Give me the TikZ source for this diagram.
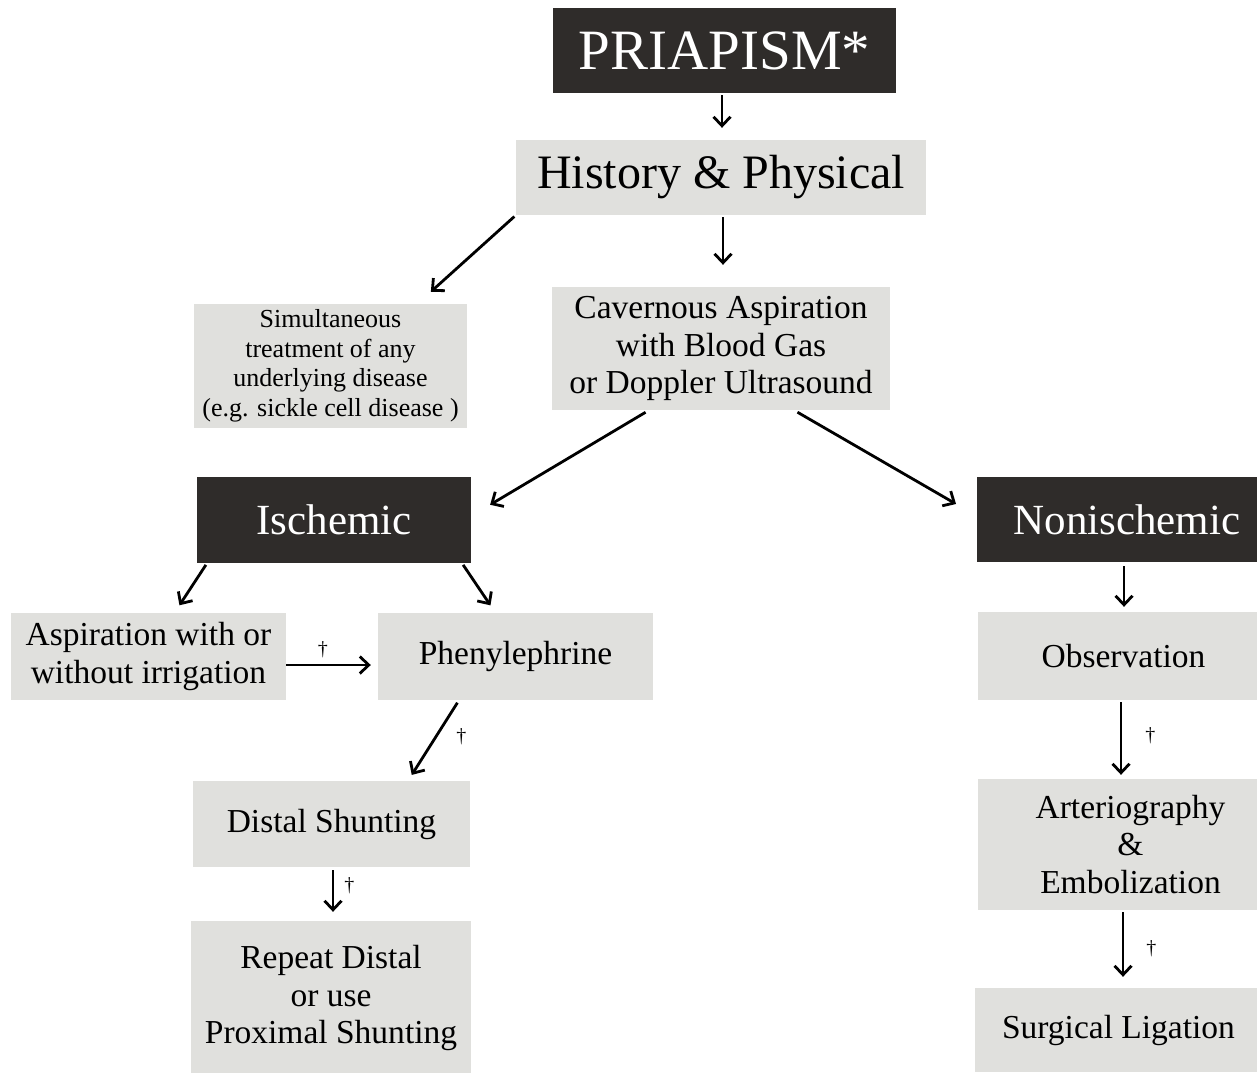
\documentclass[tikz,border=0pt]{standalone}
\usepackage{fontspec}
\setmainfont{Liberation Serif}
\usepackage{tikz}
\usetikzlibrary{arrows.meta}
\definecolor{boxgrey}{RGB}{224,224,221}
\definecolor{boxdark}{RGB}{47,44,42}
\newcommand{\bigtxt}{\fontsize{33.5}{37.5}\selectfont}

\begin{document}
\begin{tikzpicture}[x=1pt,y=-1pt,
  greybox/.style={fill=boxgrey, draw=none, inner sep=0pt, align=center, font=\bigtxt},
  darkbox/.style={fill=boxdark, draw=none, inner sep=0pt, align=center, text=white},
  arr/.style={line width=2.8pt, -{Straight Barb[length=9pt,width=17pt]}},
  dagg/.style={font=\fontsize{20}{20}\selectfont, inner sep=2pt}]
\useasboundingbox (0,0) rectangle (1257,1072);
% top of the chart
\node[darkbox, minimum width=343, minimum height=85, font=\fontsize{57}{60}\selectfont] (pri) at (724.5,50.5) {PRIAPISM*};
\node[greybox, minimum width=410, minimum height=75, font=\fontsize{48}{50}\selectfont] (hp) at (721,177.5) {History \& Physical};
\node[greybox, minimum width=273, minimum height=124, font=\fontsize{26}{29.5}\selectfont] (sim) at (330.5,366) {Simultaneous\\treatment of any\\underlying disease\\(e.g. sickle cell disease )};
\node[greybox, minimum width=338, minimum height=123] (cav) at (721,348.5) {Cavernous Aspiration\\with Blood Gas\\or Doppler Ultrasound};
% ischemic branch
\node[darkbox, minimum width=274, minimum height=86, font=\fontsize{43}{45}\selectfont] (isch) at (334,520) {Ischemic};
\node[greybox, minimum width=275, minimum height=87] (asp) at (148.5,656.5) {Aspiration with or\\without irrigation};
\node[greybox, minimum width=275, minimum height=87] (phen) at (515.5,656.5) {Phenylephrine};
\node[greybox, minimum width=277, minimum height=86] (dist) at (331.5,824) {Distal Shunting};
\node[greybox, minimum width=280, minimum height=154] (rep) at (331,998) {Repeat Distal\\or use\\Proximal Shunting};
% nonischemic branch
\node[darkbox, minimum width=300, minimum height=85, font=\fontsize{43}{45}\selectfont] (nonisch) at (1127,519.5) {Nonischemic};
\node[greybox, minimum width=291, minimum height=88] (obs) at (1123.5,656) {Observation};
\node[greybox, minimum width=305, minimum height=131] (art) at (1130.5,844.5) {Arteriography\\\&\\Embolization};
\node[greybox, minimum width=287, minimum height=84] (surg) at (1118.5,1030) {Surgical Ligation};
% connectors
\draw[arr, shorten <=2pt, shorten >=12pt] ([xshift=-2.5pt]pri.south) -- ([xshift=1pt]hp.north);
\draw[arr, shorten <=2pt, shorten >=18pt] (hp.south west) -- ([xshift=87pt]sim.north);
\draw[arr, shorten <=2pt, shorten >=22pt] ([xshift=2pt]hp.south) -- ([xshift=2pt]cav.north);
\draw[arr, shorten <=4pt, shorten >=22pt] ([xshift=-72pt]cav.south) -- ([yshift=4pt]isch.east);
\draw[arr, shorten <=4pt, shorten >=24pt] ([xshift=73pt]cav.south) -- ([yshift=3.5pt]nonisch.west);
\draw[arr, shorten <=2pt, shorten >=9pt] ([xshift=-127pt]isch.south) -- ([xshift=26pt]asp.north);
\draw[arr, shorten <=2pt, shorten >=9pt] ([xshift=128pt]isch.south) -- ([xshift=-20pt]phen.north);
\draw[arr, shorten >=7pt] ([yshift=-8.5pt]asp.east) -- node[dagg, pos=0.4, above=4pt] {\dag} ([yshift=-8.5pt]phen.west);
\draw[arr, shorten <=3pt, shorten >=7pt] ([xshift=-56.5pt]phen.south) -- node[dagg, pos=0.45, right=17pt] {\dag} ([xshift=76.5pt]dist.north);
\draw[arr, shorten <=3pt, shorten >=9pt] ([xshift=1.5pt]dist.south) -- node[dagg, pos=0.35, right=8pt] {\dag} ([xshift=2pt]rep.north);
\draw[arr, shorten <=4pt, shorten >=5pt] ([xshift=-3pt]nonisch.south) -- ([xshift=0.5pt]obs.north);
\draw[arr, shorten <=2pt, shorten >=4pt] ([xshift=-2.5pt]obs.south) -- node[dagg, pos=0.45, right=21pt] {\dag} ([xshift=-9.5pt]art.north);
\draw[arr, shorten <=2pt, shorten >=11pt] ([xshift=-7.5pt]art.south) -- node[dagg, pos=0.5, right=20pt] {\dag} ([xshift=4.5pt]surg.north);
\end{tikzpicture}
\end{document}
